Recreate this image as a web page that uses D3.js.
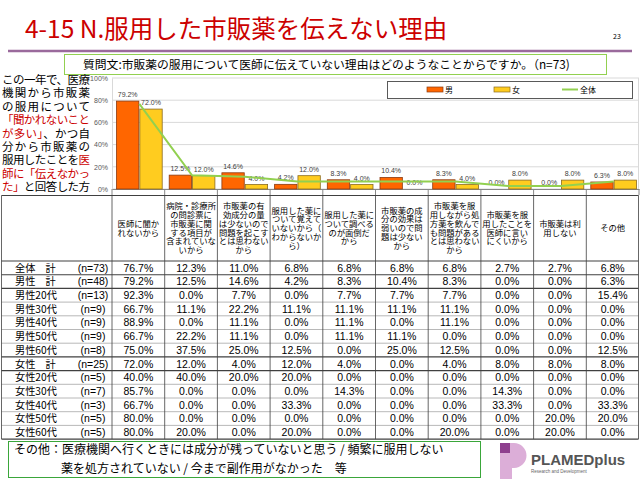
<!DOCTYPE html>
<html>
<head>
<meta charset="utf-8">
<script src="https://cdn.jsdelivr.net/npm/d3@7"></script>
<style>
  body { margin: 0; background: #fff; }
  svg { display: block; font-family: "Noto Sans CJK JP", "Noto Sans", sans-serif; }
</style>
</head>
<body>
<svg width="640" height="480"></svg>
<script>
// categories (column headers, wrapped as in the sheet)
var categories = [
  ["医師に聞か", "れないから"],
  ["病院・診療所", "の問診票に", "市販薬に関", "する項目が", "含まれていな", "いから"],
  ["市販薬の有", "効成分の量", "は少ないので", "問題を起こす", "とは思わない", "から"],
  ["服用した薬に", "ついて覚えて", "いないから（", "わからないか", "ら）"],
  ["服用した薬に", "ついて調べる", "のが面倒だ", "から"],
  ["市販薬の成", "分の効果は", "弱いので問", "題は少ない", "から"],
  ["市販薬を服", "用しながら処", "方薬を飲んで", "も問題がある", "とは思わない", "から"],
  ["市販薬を服", "用したことを", "医師に言い", "にくいから"],
  ["市販薬は利", "用しない"],
  ["その他"]
];

// chart series
var male = [79.2, 12.5, 14.6, 4.2, 8.3, 10.4, 8.3, 0.0, 0.0, 6.3];
var female = [72.0, 12.0, 4.0, 12.0, 4.0, 0.0, 4.0, 8.0, 8.0, 8.0];
var total = [76.7, 12.3, 11.0, 6.8, 6.8, 6.8, 6.8, 2.7, 2.7, 6.8];

// table rows
var rowNames = ["全体　計", "男性　計", "男性20代", "男性30代", "男性40代", "男性50代", "男性60代",
  "女性　計", "女性20代", "女性30代", "女性40代", "女性50代", "女性60代"];
var rowN = ["(n=73)", "(n=48)", "(n=13)", "(n=9)", "(n=9)", "(n=9)", "(n=8)",
  "(n=25)", "(n=5)", "(n=7)", "(n=3)", "(n=5)", "(n=5)"];
var rowValues = [
  [76.7, 12.3, 11.0, 6.8, 6.8, 6.8, 6.8, 2.7, 2.7, 6.8],
  [79.2, 12.5, 14.6, 4.2, 8.3, 10.4, 8.3, 0.0, 0.0, 6.3],
  [92.3, 0.0, 7.7, 0.0, 7.7, 7.7, 7.7, 0.0, 0.0, 15.4],
  [66.7, 11.1, 22.2, 11.1, 11.1, 11.1, 11.1, 0.0, 0.0, 0.0],
  [88.9, 0.0, 11.1, 0.0, 11.1, 0.0, 11.1, 0.0, 0.0, 0.0],
  [66.7, 22.2, 11.1, 0.0, 11.1, 11.1, 0.0, 0.0, 0.0, 0.0],
  [75.0, 37.5, 25.0, 12.5, 0.0, 25.0, 12.5, 0.0, 0.0, 12.5],
  [72.0, 12.0, 4.0, 12.0, 4.0, 0.0, 4.0, 8.0, 8.0, 8.0],
  [40.0, 40.0, 20.0, 20.0, 0.0, 0.0, 0.0, 0.0, 0.0, 0.0],
  [85.7, 0.0, 0.0, 0.0, 14.3, 0.0, 0.0, 14.3, 0.0, 0.0],
  [66.7, 0.0, 0.0, 33.3, 0.0, 0.0, 0.0, 33.3, 0.0, 33.3],
  [80.0, 0.0, 0.0, 0.0, 0.0, 0.0, 0.0, 0.0, 20.0, 20.0],
  [80.0, 20.0, 0.0, 20.0, 0.0, 0.0, 20.0, 0.0, 20.0, 0.0]
];
var yTicks = [0, 20, 40, 60, 80, 100];

var svg = d3.select("svg");
var fmt = function(v) { return v.toFixed(1) + "%"; };
var latin = "Liberation Sans, Arial, sans-serif";

// ---- title ----
svg.append("text").attr("x", 25).attr("y", 38)
  .attr("font-size", 24.5).attr("fill", "#cc0000")
  .text("4-15 N.服用した市販薬を伝えない理由");
svg.append("text").attr("x", 613).attr("y", 39)
  .attr("font-size", 7).attr("fill", "#000").text("23");
svg.append("line").attr("x1", 8).attr("x2", 632).attr("y1", 51).attr("y2", 51)
  .attr("stroke", "#9a6a9c").attr("stroke-width", 2.5);

// question box
svg.append("rect").attr("x", 64.5).attr("y", 54.5).attr("width", 542).attr("height", 20)
  .attr("fill", "#fff").attr("stroke", "#92d050").attr("stroke-width", 1);
svg.append("text").attr("x", 83).attr("y", 69).attr("font-size", 11.8).attr("fill", "#000")
  .text("質問文:市販薬の服用について医師に伝えていない理由はどのようなことからですか。（n=73)");

// left note
var noteLines = [
  [["この一年で、医療", "#000"]],
  [["機関から市販薬", "#000"]],
  [["の服用について", "#000"]],
  [["「聞かれないこと", "#cc0000"]],
  [["が多い」", "#cc0000"], ["、かつ自", "#000"]],
  [["分から市販薬の", "#000"]],
  [["服用したことを", "#000"], ["医", "#cc0000"]],
  [["師に「伝えなかっ", "#cc0000"]],
  [["た」", "#cc0000"], ["と回答した方", "#000"]]
];
var note = svg.append("g");
noteLines.forEach(function(parts, i) {
  var t = note.append("text").attr("x", 46).attr("y", 84 + i * 13.4)
    .attr("text-anchor", "middle").attr("font-size", 11.5)
    .attr("textLength", 88).attr("lengthAdjust", "spacing");
  parts.forEach(function(p) { t.append("tspan").attr("fill", p[1]).text(p[0]); });
});

// ---- chart ----
var plotL = 112, plotR = 639, plotT = 78, plotB = 189;
var x = d3.scaleBand().domain(d3.range(categories.length)).range([plotL, plotR]);
var xs = d3.scaleBand().domain(["男", "女"]).range([4, x.bandwidth() - 2]);
var y = d3.scaleLinear().domain([0, 100]).range([plotB, plotT]);

var chart = svg.append("g");
chart.selectAll(".grid").data(yTicks).enter().append("line")
  .attr("x1", plotL).attr("x2", plotR)
  .attr("y1", function(d) { return y(d); }).attr("y2", function(d) { return y(d); })
  .attr("stroke", "#d9d9d9").attr("stroke-width", 1);
chart.append("line").attr("x1", plotR - 0.5).attr("x2", plotR - 0.5).attr("y1", plotT).attr("y2", plotB)
  .attr("stroke", "#d9d9d9");

var yAxis = chart.append("g").attr("transform", "translate(" + plotL + ",0)")
  .call(d3.axisLeft(y).tickValues(yTicks).tickSize(0).tickPadding(4).tickFormat(function(d) { return d + "%"; }));
yAxis.select(".domain").attr("stroke", "#d9d9d9");
yAxis.selectAll("text").attr("font-size", 7).attr("fill", "#595959").attr("font-family", latin);

var xAxis = chart.append("g").attr("transform", "translate(0," + plotB + ")")
  .call(d3.axisBottom(x).tickSize(0).tickFormat(""));
xAxis.select(".domain").attr("stroke", "#888");
chart.selectAll(".tk").data(d3.range(categories.length + 1)).enter().append("line")
  .attr("x1", function(i) { return plotL + i * x.step(); })
  .attr("x2", function(i) { return plotL + i * x.step(); })
  .attr("y1", plotB).attr("y2", plotB + 6).attr("stroke", "#888");

var series = [
  { key: "男", vals: male, fill: "#ff6600", stroke: "#8a3a10" },
  { key: "女", vals: female, fill: "#ffcc1f", stroke: "#8a6a20" }
];
series.forEach(function(s) {
  var g = chart.append("g");
  g.selectAll("rect").data(s.vals).enter().append("rect")
    .attr("x", function(d, i) { return x(i) + xs(s.key) + 0.5; })
    .attr("y", function(d) { return y(d); })
    .attr("width", xs.bandwidth() - 1)
    .attr("height", function(d) { return plotB - y(d); })
    .attr("fill", s.fill).attr("stroke", s.stroke).attr("stroke-width", 0.8);
  g.selectAll("text").data(s.vals).enter().append("text")
    .attr("x", function(d, i) { return x(i) + xs(s.key) + xs.bandwidth() / 2; })
    .attr("y", function(d) { return y(d) - 4; })
    .attr("text-anchor", "middle").attr("font-size", 7).attr("fill", "#404040")
    .attr("font-family", latin)
    .text(fmt);
});

var line = d3.line()
  .x(function(d, i) { return x(i) + x.bandwidth() / 2 + 1; })
  .y(function(d) { return y(d); });
chart.append("path").datum(total).attr("d", line)
  .attr("fill", "none").attr("stroke", "#92d050").attr("stroke-width", 2);

// legend
var lg = chart.append("g");
lg.append("rect").attr("x", 387.5).attr("y", 81.5).attr("width", 245).attr("height", 17)
  .attr("fill", "#fff").attr("stroke", "#595959").attr("stroke-width", 1);
lg.append("rect").attr("x", 427).attr("y", 87).attr("width", 16).attr("height", 5)
  .attr("fill", "#ff6600").attr("stroke", "#8a3a10").attr("stroke-width", 0.7);
lg.append("text").attr("x", 445).attr("y", 93).attr("font-size", 8).text("男");
lg.append("rect").attr("x", 494).attr("y", 87).attr("width", 16).attr("height", 5)
  .attr("fill", "#ffcc1f").attr("stroke", "#8a6a20").attr("stroke-width", 0.7);
lg.append("text").attr("x", 512).attr("y", 93).attr("font-size", 8).text("女");
lg.append("line").attr("x1", 562).attr("x2", 578).attr("y1", 89.5).attr("y2", 89.5)
  .attr("stroke", "#92d050").attr("stroke-width", 2);
lg.append("text").attr("x", 580).attr("y", 93).attr("font-size", 8).text("全体");

// ---- table ----
var tTop = 195.5, hBottom = 261, rowH = 13.7;
var tLeft = 1.5;
var table = svg.append("g");
var colEdges = [tLeft].concat(d3.range(categories.length + 1).map(function(i) { return plotL + i * x.step(); }));

// header text
categories.forEach(function(lines, i) {
  var cx = x(i) + x.bandwidth() / 2;
  var lh = 8.8;
  var y0 = (tTop + hBottom) / 2 - (lines.length - 1) * lh / 2 + 3;
  var t = table.append("text").attr("text-anchor", "middle").attr("font-size", 8.3).attr("fill", "#000");
  lines.forEach(function(l, k) {
    t.append("tspan").attr("x", cx).attr("y", y0 + k * lh).text(l);
  });
});

// rows
rowNames.forEach(function(name, r) {
  var cy = hBottom + r * rowH + rowH / 2 + 3.8;
  table.append("text").attr("x", 15).attr("y", cy)
    .attr("font-size", 10.2).attr("fill", "#000").text(name);
  table.append("text").attr("x", 93).attr("y", cy).attr("text-anchor", "middle")
    .attr("font-size", 10.5).attr("fill", "#000").attr("font-family", latin)
    .text(rowN[r]);
  rowValues[r].forEach(function(v, c) {
    table.append("text").attr("x", x(c) + x.bandwidth() / 2).attr("y", cy)
      .attr("text-anchor", "middle").attr("font-size", 10.5).attr("fill", "#000")
      .attr("font-family", latin)
      .text(fmt(v));
  });
});

// grid lines of table
var tBottom = hBottom + rowNames.length * rowH;
var strong = [0, 1, 2, 7, 8];
d3.range(rowNames.length + 1).forEach(function(r) {
  var yy = hBottom + r * rowH;
  var s = strong.indexOf(r) >= 0 || r === rowNames.length;
  table.append("line").attr("x1", tLeft).attr("x2", plotR - 0.5).attr("y1", yy).attr("y2", yy)
    .attr("stroke", s ? "#404040" : "#a6a6a6")
    .attr("stroke-width", s ? 1.1 : 0.8);
});
table.append("line").attr("x1", tLeft).attr("x2", plotR - 0.5).attr("y1", tTop).attr("y2", tTop)
  .attr("stroke", "#404040").attr("stroke-width", 1);
colEdges.forEach(function(cx, k) {
  var xx = k === colEdges.length - 1 ? cx - 0.5 : cx;
  table.append("line").attr("x1", xx).attr("x2", xx).attr("y1", tTop).attr("y2", tBottom)
    .attr("stroke", "#404040").attr("stroke-width", 0.8);
});

// ---- footer ----
svg.append("rect").attr("x", 8.5).attr("y", 441.5).attr("width", 472).attr("height", 36)
  .attr("fill", "#fff").attr("stroke", "#3aa63a").attr("stroke-width", 1);
svg.append("text").attr("x", 14).attr("y", 454).attr("font-size", 12).attr("fill", "#000")
  .text("その他：医療機関へ行くときには成分が残っていないと思う / 頻繁に服用しない");
svg.append("text").attr("x", 61).attr("y", 473).attr("font-size", 12).attr("fill", "#000")
  .text("薬を処方されていない / 今まで副作用がなかった　等");

// logo
var logo = svg.append("g");
logo.append("path")
  .attr("d", "M500,443 H514 A12.5,12.5 0 0 1 514,468 H512 V479 H500 Z")
  .attr("fill", "#dcaed8");
logo.append("rect").attr("x", 500).attr("y", 443).attr("width", 10).attr("height", 10).attr("fill", "#8e3f8e");
logo.append("text").attr("x", 531).attr("y", 465).attr("font-size", 15).attr("font-weight", "bold")
  .attr("fill", "#555").attr("font-family", latin).text("PLAMEDplus");
logo.append("text").attr("x", 531).attr("y", 473).attr("font-size", 4.5)
  .attr("fill", "#666").attr("font-family", latin).text("Research and Development");
</script>
</body>
</html>
